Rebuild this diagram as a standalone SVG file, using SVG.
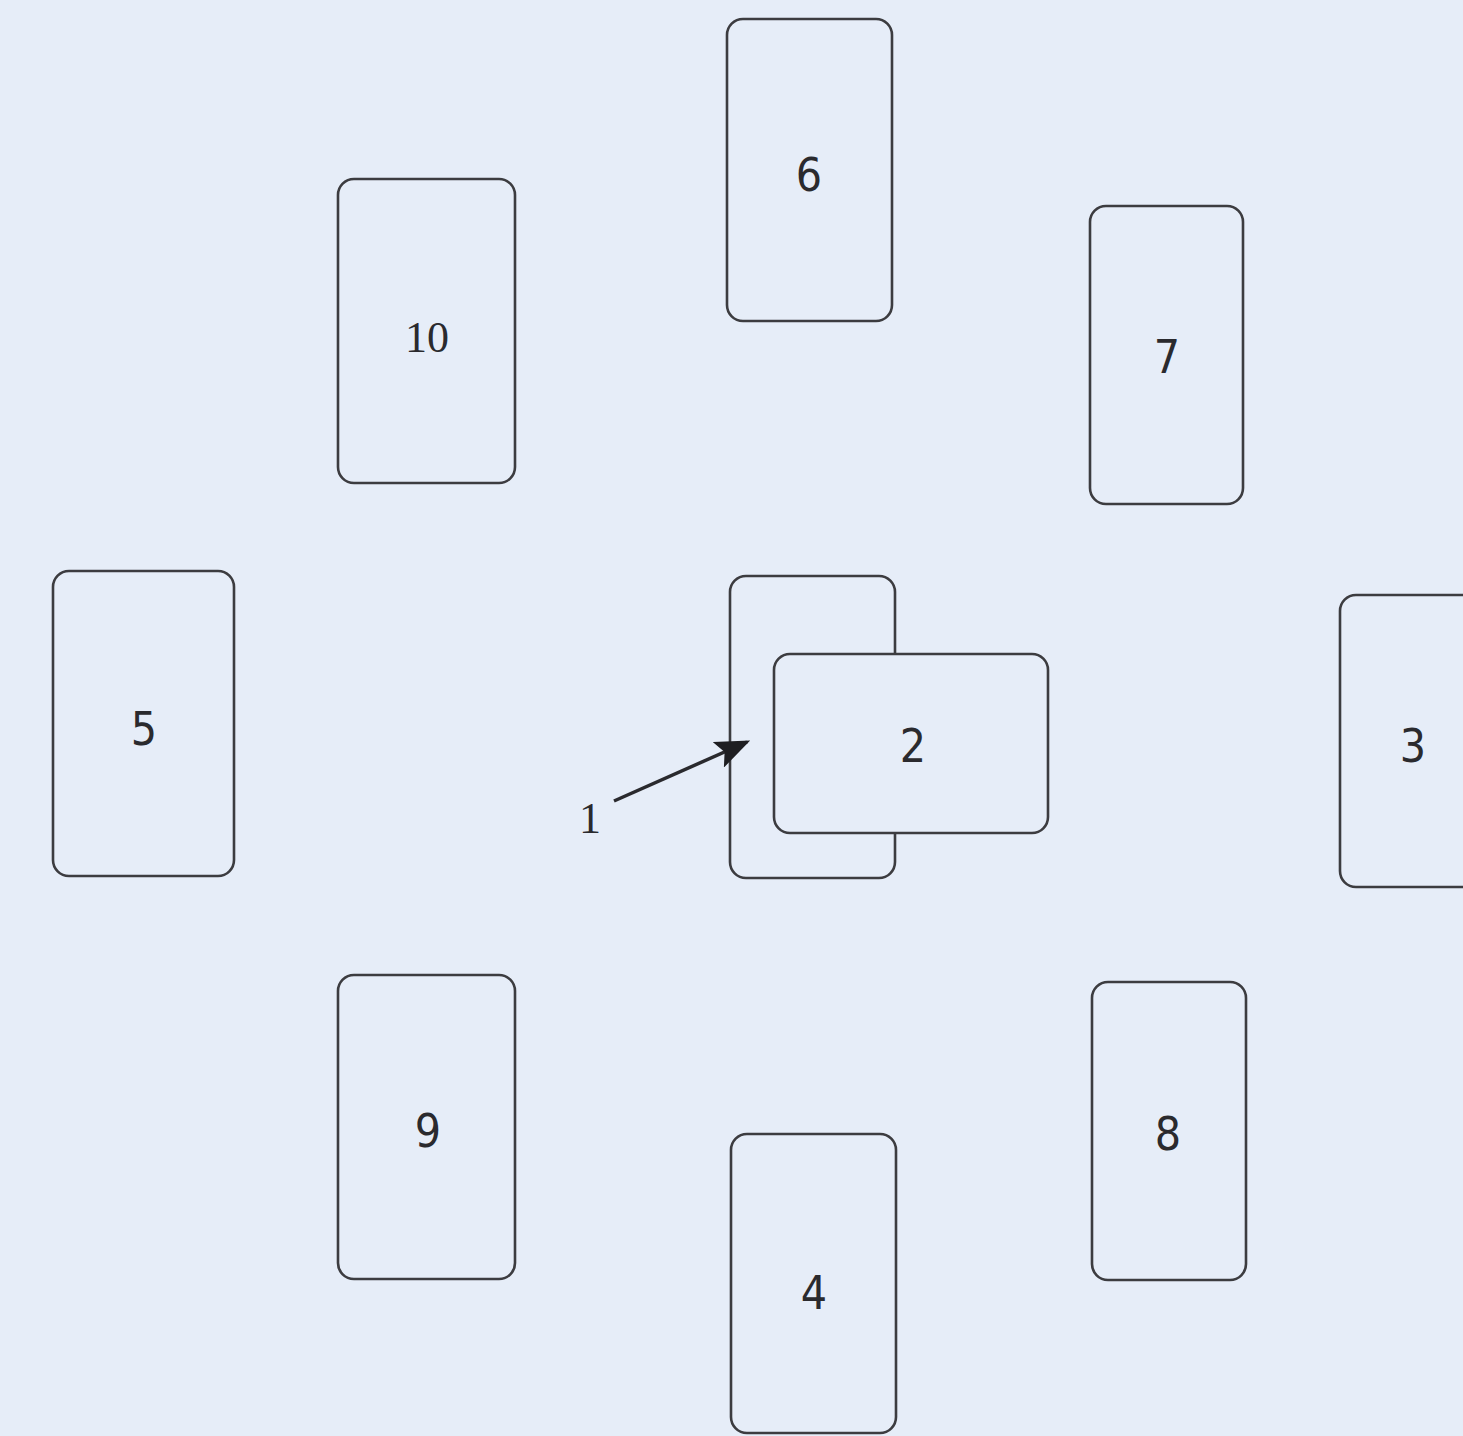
<svg xmlns="http://www.w3.org/2000/svg" width="1463" height="1436" viewBox="0 0 1463 1436">
<defs>
<style>
.card{fill:#e6edf8;stroke:#3c3c40;stroke-width:2.6}
.lbl{font-family:"Liberation Sans Narrow","DejaVu Sans Condensed","Liberation Sans",sans-serif;font-size:46px;fill:#2a2a2e;text-anchor:middle}
.ser{font-family:"Liberation Serif","DejaVu Serif",serif;font-size:44px;fill:#2a2a2e;text-anchor:middle}
.conn{stroke:#2a2a2e;stroke-width:3.5;fill:none}
</style>
<marker id="ah" markerWidth="10" markerHeight="8" refX="9" refY="4" orient="auto" markerUnits="strokeWidth">
<path d="M0,0 L10,4 L0,8 L2,4 Z" fill="#1e1e22"/>
</marker>
</defs>
<rect width="1463" height="1436" fill="#e6edf8"/>
<g id="card6"><rect class="card" x="727" y="19" width="165" height="302" rx="16"/><text class="lbl" x="809" y="191">6</text></g>
<g id="card10"><rect class="card" x="338" y="179" width="177" height="304" rx="16"/><text class="ser" x="427" y="352">10</text></g>
<g id="card7"><rect class="card" x="1090" y="206" width="153" height="298" rx="16"/><text class="lbl" x="1167" y="373">7</text></g>
<g id="card5"><rect class="card" x="53" y="571" width="181" height="305" rx="16"/><text class="lbl" x="144" y="745">5</text></g>
<g id="card1"><rect class="card" x="730" y="576" width="165" height="302" rx="16"/></g>
<g id="card2"><rect class="card" x="774" y="654" width="274" height="179" rx="16"/><text class="lbl" x="913" y="762">2</text></g>
<g id="card3"><rect class="card" x="1340" y="595" width="180" height="292" rx="16"/><text class="lbl" x="1413" y="762">3</text></g>
<g id="card9"><rect class="card" x="338" y="975" width="177" height="304" rx="16"/><text class="lbl" x="428" y="1147">9</text></g>
<g id="card8"><rect class="card" x="1092" y="982" width="154" height="298" rx="16"/><text class="lbl" x="1168" y="1150">8</text></g>
<g id="card4"><rect class="card" x="731" y="1134" width="165" height="299" rx="16"/><text class="lbl" x="814" y="1309">4</text></g>
<g id="label1"><text class="ser" x="590" y="833">1</text></g>
<g id="connectors">
<line class="conn" x1="614" y1="801" x2="747" y2="742" marker-end="url(#ah)"/>
</g>
</svg>
